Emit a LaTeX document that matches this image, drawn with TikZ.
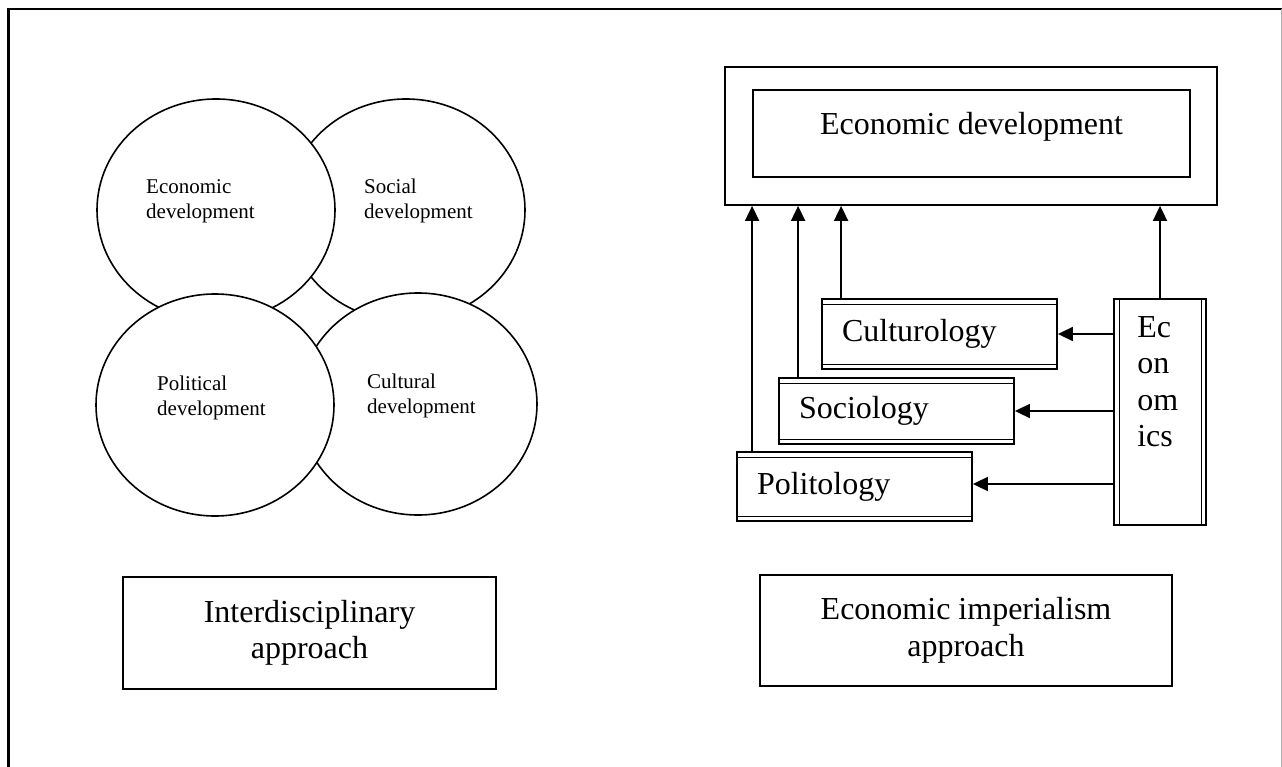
\documentclass[tikz,border=0pt]{standalone}
\usepackage{fontspec}
\setmainfont{Liberation Serif}
\usetikzlibrary{shapes.geometric, arrows.meta, positioning, calc}
\newcommand\circfont{\fontsize{21}{25}\selectfont}
\newcommand\boxfont{\fontsize{32}{36.5}\selectfont}

\begin{document}
\begin{tikzpicture}[x=1pt, y=-1pt,
  circ/.style={ellipse, draw, line width=1.6pt, fill=white, minimum width=238pt, minimum height=222pt, inner sep=0pt},
  ctext/.style={anchor=north west, align=left, inner sep=0pt, font=\circfont},
  lbox/.style={rectangle, draw, line width=1.8pt, inner sep=0pt},
  dscbox/.style={lbox, minimum width=235pt, text width=195pt, inner xsep=20pt, align=left, font=\boxfont,
    path picture={\draw[line width=0.8pt]
      ([yshift=-5pt]path picture bounding box.north west) -- ([yshift=-5pt]path picture bounding box.north east)
      ([yshift=5pt]path picture bounding box.south west) -- ([yshift=5pt]path picture bounding box.south east);}},
  ecobox/.style={lbox, minimum width=92pt, minimum height=226pt,
    path picture={\draw[line width=0.8pt]
      ([xshift=5pt]path picture bounding box.north west) -- ([xshift=5pt]path picture bounding box.south west)
      ([xshift=-5pt]path picture bounding box.north east) -- ([xshift=-5pt]path picture bounding box.south east);}},
  appbox/.style={lbox, align=center, font=\boxfont},
  arr/.style={-{Triangle[length=15pt, width=14pt]}, line width=1.8pt}
]
\useasboundingbox (0,0) rectangle (1282,767);
% page frame
\draw[line width=2.5pt] (8.5,767) -- (8.5,9) -- (1282,9);
\draw[gray!60, line width=0.8pt] (1281,9) -- (1281,767);

% interdisciplinary approach
\node[circ] (socdev) at (406,210) {};
\node[circ] (ecodev) at (216,210) {};
\node[circ] (culdev) at (418,404) {};
\node[circ] (poldev) at (215,405) {};
\node[ctext] (ecotxt) at (146,179) {Economic\\development};
\node[ctext] (soctxt) at (364,179) {Social\\development};
\node[ctext] (poltxt) at (157,376) {Political\\development};
\node[ctext] (cultxt) at (367,374) {Cultural\\development};
\node[appbox, minimum width=373pt, minimum height=112pt] (interd) at (309.5,633) {Interdisciplinary\\approach};

% economic imperialism approach
\node[lbox, minimum width=492pt, minimum height=138pt] (devouter) at (971,136) {};
\node[lbox, minimum width=437pt, minimum height=87pt] (devbox) at (971.5,133.5) {};
\node[font=\boxfont, inner sep=0pt] (devtxt) at ([yshift=7pt]devbox.center) {Economic development};
\node[dscbox, minimum height=70pt] (cult) at (939.5,334) {Culturology};
\node[dscbox, minimum height=66pt] (socio) at (896.5,411) {Sociology};
\node[dscbox, minimum height=69pt] (polit) at (854.5,486.5) {Politology};
\node[ecobox] (econ) at (1160,412) {};
\node[anchor=north west, align=left, inner sep=0pt, font=\boxfont] (econtxt) at ([xshift=24pt, yshift=-18pt]econ.north west) {Ec\\on\\om\\ics};
\node[appbox, minimum width=412pt, minimum height=111pt] (imper) at (966,630.5) {Economic imperialism\\approach};

\coordinate (pa) at ([xshift=16pt]polit.north west);
\coordinate (sa) at ([xshift=20pt]socio.north west);
\coordinate (ca) at ([xshift=20pt]cult.north west);
\coordinate (pe) at ([yshift=2.5pt]polit.east);
\draw[arr] (pa) -- (pa |- devouter.south);
\draw[arr] (sa) -- (sa |- devouter.south);
\draw[arr] (ca) -- (ca |- devouter.south);
\draw[arr] (econ.north) -- (econ.north |- devouter.south);
\draw[arr] (econ.west |- cult.east) -- (cult.east);
\draw[arr] (econ.west |- socio.east) -- (socio.east);
\draw[arr] (econ.west |- pe) -- (pe);
\end{tikzpicture}
\end{document}
